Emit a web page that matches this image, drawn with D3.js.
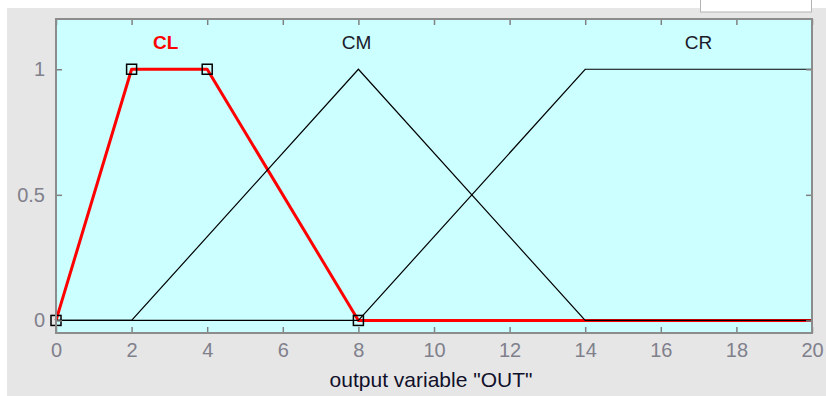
<!DOCTYPE html>
<html>
<head>
<meta charset="utf-8">
<script src="https://cdn.jsdelivr.net/npm/d3@7"></script>
<style>
  body { margin: 0; background: #ffffff; }
  svg { display: block; font-family: "Liberation Sans", Arial, sans-serif; }
</style>
</head>
<body>
<div id="graphArea"></div>
<script>
// membership functions of output variable "OUT"
const xTicks = [0, 2, 4, 6, 8, 10, 12, 14, 16, 18, 20];
const yTicks = [0, 0.5, 1];
const yTickLabels = ["0", "0.5", "1"];

const mfNames = ["CL", "CM", "CR"];
const mfLabelX = [2.9, 7.95, 17];

const clX = [0, 2, 4, 8, 20];
const clY = [0, 1, 1, 0, 0];
const cmX = [0, 2, 8, 14, 20];
const cmY = [0, 0, 1, 0, 0];
const crX = [0, 8, 14, 20];
const crY = [0, 0, 1, 1];
// the selected MF shows its corner points
const clPtsX = [0, 2, 4, 8];
const clPtsY = [0, 1, 1, 0];

const width = 826, height = 396;
const plot = {left: 56, right: 812, top: 19, bottom: 333};

const svg = d3.select("#graphArea").append("svg")
  .attr("width", width)
  .attr("height", height);

// panel background
svg.append("rect")
  .attr("x", 7).attr("y", 8)
  .attr("width", width - 7).attr("height", height - 8)
  .attr("fill", "#e6e6e6");
svg.append("rect")
  .attr("x", 700.5).attr("y", -2)
  .attr("width", 111).attr("height", 14)
  .attr("fill", "#ffffff")
  .attr("stroke", "#b4b4b4");

const x = d3.scaleLinear().domain([0, 20]).range([plot.left, plot.right]);
const y = d3.scaleLinear().domain([-0.05, 1.2]).range([plot.bottom, plot.top]);

svg.append("rect")
  .attr("x", plot.left).attr("y", plot.top)
  .attr("width", plot.right - plot.left).attr("height", plot.bottom - plot.top)
  .attr("fill", "#ccffff");

const line = d3.line().x(d => x(d[0])).y(d => y(d[1]));
const pairs = (xs, ys) => xs.map((v, i) => [v, ys[i]]);

// CL on the bottom, black MFs over it
svg.append("path")
  .attr("d", line(pairs(clX, clY)))
  .attr("fill", "none")
  .attr("stroke", "#ff0000")
  .attr("stroke-width", 3)
  .attr("stroke-linejoin", "round");

[[cmX, cmY], [crX, crY]].forEach(function(mf) {
  svg.append("path")
    .attr("d", line(pairs(mf[0], mf[1])))
    .attr("fill", "none")
    .attr("stroke", "#000000")
    .attr("stroke-width", 1.2);
});

svg.selectAll("rect.pt")
  .data(pairs(clPtsX, clPtsY))
  .enter().append("rect")
  .attr("class", "pt")
  .attr("x", d => x(d[0]) - 5)
  .attr("y", d => y(d[1]) - 5)
  .attr("width", 10).attr("height", 10)
  .attr("fill", "none")
  .attr("stroke", "#000000")
  .attr("stroke-width", 1.5);

// MF names
svg.selectAll("text.mf")
  .data(mfNames)
  .enter().append("text")
  .attr("class", "mf")
  .attr("x", (d, i) => x(mfLabelX[i]))
  .attr("y", 49)
  .attr("text-anchor", "middle")
  .attr("font-size", 19)
  .attr("font-weight", (d, i) => i === 0 ? "bold" : "normal")
  .attr("fill", (d, i) => i === 0 ? "#ff0000" : "#1a1a2a")
  .text(d => d);

// axes with inward ticks
const tickColor = "#808080";
const xb = svg.append("g")
  .attr("transform", "translate(0," + plot.bottom + ")")
  .call(d3.axisBottom(x).tickValues(xTicks).tickSizeInner(-6).tickSizeOuter(0).tickPadding(13));
const xt = svg.append("g")
  .attr("transform", "translate(0," + plot.top + ")")
  .call(d3.axisTop(x).tickValues(xTicks).tickSizeInner(-6).tickSizeOuter(0).tickFormat(""));
const yl = svg.append("g")
  .attr("transform", "translate(" + plot.left + ",0)")
  .call(d3.axisLeft(y).tickValues(yTicks).tickSizeInner(-6).tickSizeOuter(0).tickPadding(11)
    .tickFormat((d, i) => yTickLabels[i]));
const yr = svg.append("g")
  .attr("transform", "translate(" + plot.right + ",0)")
  .call(d3.axisRight(y).tickValues(yTicks).tickSizeInner(-6).tickSizeOuter(0).tickFormat(""));

[xb, xt, yl, yr].forEach(function(a) {
  a.select(".domain").remove();
  a.selectAll("line").attr("stroke", tickColor).attr("stroke-width", 1.5);
  a.selectAll("text")
    .attr("fill", "#80808c")
    .attr("font-size", 20)
    .attr("font-family", "'Liberation Sans', Arial, sans-serif");
});
xb.selectAll("text").attr("dy", "0.55em");

// plot frame
svg.append("rect")
  .attr("x", plot.left).attr("y", plot.top)
  .attr("width", plot.right - plot.left).attr("height", plot.bottom - plot.top)
  .attr("fill", "none")
  .attr("stroke", "#8c8c8c")
  .attr("stroke-width", 2);

svg.append("text")
  .attr("x", 431)
  .attr("y", 387)
  .attr("text-anchor", "middle")
  .attr("font-size", 21)
  .attr("fill", "#10102a")
  .text('output variable "OUT"');
</script>
</body>
</html>
